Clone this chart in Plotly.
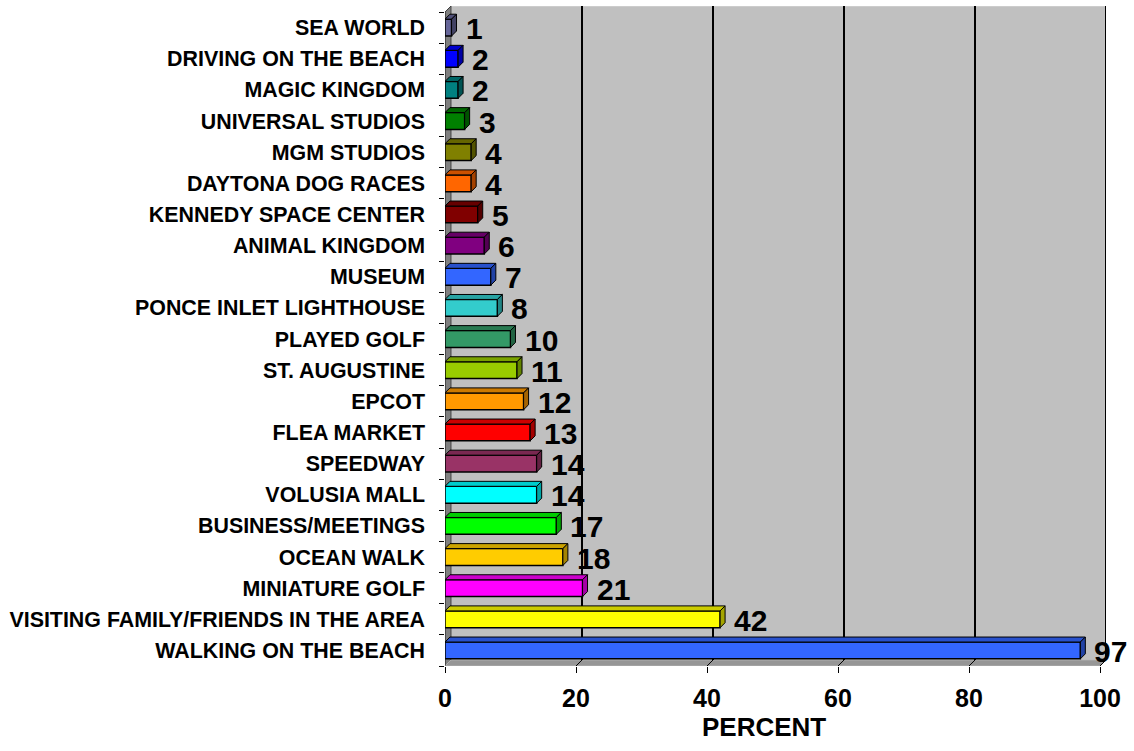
import plotly.graph_objects as go

# ---- data (bottom to top) ----
categories = [
    "WALKING ON THE BEACH", "VISITING FAMILY/FRIENDS IN THE AREA", "MINIATURE GOLF",
    "OCEAN WALK", "BUSINESS/MEETINGS", "VOLUSIA MALL", "SPEEDWAY", "FLEA MARKET",
    "EPCOT", "ST. AUGUSTINE", "PLAYED GOLF", "PONCE INLET LIGHTHOUSE", "MUSEUM",
    "ANIMAL KINGDOM", "KENNEDY SPACE CENTER", "DAYTONA DOG RACES", "MGM STUDIOS",
    "UNIVERSAL STUDIOS", "MAGIC KINGDOM", "DRIVING ON THE BEACH", "SEA WORLD",
]
values = [97, 42, 21, 18, 17, 14, 14, 13, 12, 11, 10, 8, 7, 6, 5, 4, 4, 3, 2, 2, 1]
colors = [
    "#3366FF", "#FFFF00", "#FF00FF", "#FFCC00", "#00FF00", "#00FFFF", "#993366",
    "#FF0000", "#FF9900", "#99CC00", "#339966", "#33CCCC", "#3366FF", "#800080",
    "#800000", "#FF6600", "#808000", "#008000", "#008080", "#0000FF", "#666699",
]
x_ticks = [0, 20, 40, 60, 80, 100]

FONT = "Liberation Sans, Arial, sans-serif"

# geometry of pseudo-3D (in data units)
DX, DY = 0.916, 0.193     # wall depth
BDX, BDY = 0.76, 0.16     # bar depth
BW = 0.54                 # bar front height
YLO, YHI = -0.5, len(categories) - 0.5
XMAX = 100


def shade(hexc, f):
    h = hexc.lstrip("#")
    r, g, b = int(h[0:2], 16), int(h[2:4], 16), int(h[4:6], 16)
    return "#%02X%02X%02X" % (int(r * f), int(g * f), int(b * f))


idx = list(range(len(categories)))

fig = go.Figure()
fig.add_trace(go.Bar(
    y=idx, x=values, orientation="h", width=BW,
    marker=dict(color=colors, line=dict(color="black", width=1.5)),
    hoverinfo="x+text", text=categories, textposition="none",
))

shapes = []
# back wall
shapes.append(dict(type="rect", xref="x", yref="y", layer="below",
                   x0=DX, x1=XMAX + DX, y0=YLO + DY, y1=YHI + DY,
                   fillcolor="#C0C0C0", line=dict(color="#D8D8D8", width=1)))
# left wall
shapes.append(dict(type="path", xref="x", yref="y", layer="below",
                   path=f"M0,{YLO} L{DX},{YLO+DY} L{DX},{YHI+DY} L0,{YHI} Z",
                   fillcolor="#808080", line=dict(color="#404040", width=1)))
# floor
shapes.append(dict(type="path", xref="x", yref="y", layer="below",
                   path=f"M0,{YLO} L{XMAX},{YLO} L{XMAX+DX},{YLO+DY} L{DX},{YLO+DY} Z",
                   fillcolor="#969696", line=dict(color="#B0B0B0", width=1)))
# gridlines on back wall and floor
for t in x_ticks[1:]:
    shapes.append(dict(type="line", xref="x", yref="y", layer="below",
                       x0=t + DX, x1=t + DX, y0=YLO + DY, y1=YHI + DY,
                       line=dict(color="black", width=2)))
    shapes.append(dict(type="line", xref="x", yref="y", layer="below",
                       x0=t, x1=t + DX, y0=YLO, y1=YLO + DY,
                       line=dict(color="black", width=1)))
# front left edge
shapes.append(dict(type="line", xref="x", yref="y", layer="below",
                   x0=0, x1=0, y0=YLO, y1=YHI, line=dict(color="#303030", width=1)))

# bar top and side faces
for i, v, c in zip(idx, values, colors):
    top = i + BW / 2
    bot = i - BW / 2
    shapes.append(dict(type="path", xref="x", yref="y", layer="above",
                       path=f"M0,{top} L{v},{top} L{v+BDX},{top+BDY} L{BDX},{top+BDY} Z",
                       fillcolor=shade(c, 0.8), line=dict(color="black", width=1)))
    shapes.append(dict(type="path", xref="x", yref="y", layer="above",
                       path=f"M{v},{bot} L{v},{top} L{v+BDX},{top+BDY} L{v+BDX},{bot+BDY} Z",
                       fillcolor=shade(c, 0.65), line=dict(color="black", width=1)))

annotations = []
for i, v in zip(idx, values):
    annotations.append(dict(x=v, y=i, xref="x", yref="y", text=str(v),
                            showarrow=False, xanchor="left", yanchor="middle",
                            xshift=12, yshift=-1,
                            font=dict(family=FONT, size=30, color="black", weight="bold")))
annotations.append(dict(x=(764 - 445) / 661, y=-0.093, xref="paper", yref="paper",
                        text="PERCENT", showarrow=False, xanchor="center", yanchor="middle",
                        font=dict(family=FONT, size=26, color="black", weight="bold")))

fig.update_layout(
    width=1134, height=751,
    margin=dict(l=445, r=28, t=6, b=85),
    paper_bgcolor="white", plot_bgcolor="white",
    showlegend=False,
    shapes=shapes, annotations=annotations,
    xaxis=dict(range=[0, XMAX + DX], tickmode="array", tickvals=x_ticks,
               ticktext=[str(t) for t in x_ticks],
               ticks="outside", ticklen=6, tickcolor="black", tickwidth=1,
               showgrid=False, zeroline=False, showline=False, ticklabelstandoff=4,
               tickfont=dict(family=FONT, size=25, color="black", weight="bold")),
    yaxis=dict(range=[YLO, YHI + DY], tickmode="array", tickvals=idx,
               ticktext=categories, ticks="", showgrid=False, zeroline=False,
               showline=False, ticklabelstandoff=19,
               tickfont=dict(family=FONT, size=21.4, color="black", weight="bold"),
               minor=dict(tickmode="array", tickvals=[k + 0.5 for k in range(-1, len(categories))],
                          ticks="outside", ticklen=5, tickcolor="black", tickwidth=1,
                          showgrid=False)),
)

fig.write_html("out.html", config={"displayModeBar": False},
               post_script="document.body.style.margin='0px';")
